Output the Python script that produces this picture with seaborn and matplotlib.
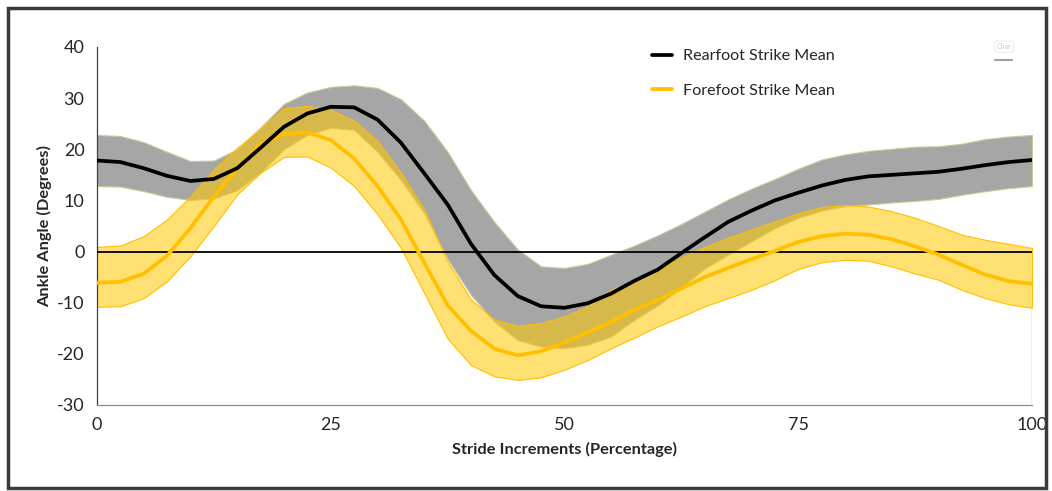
import numpy as np
import pandas as pd
import matplotlib.pyplot as plt
import seaborn as sns
from matplotlib.patches import Rectangle
from matplotlib.ticker import MultipleLocator

# stride position (% of stride), sampled every 2.5 %
stride = np.arange(0, 100.1, 2.5)

rearfoot_mean = [17.8, 17.5, 16.3, 14.8, 13.8, 14.2, 16.3, 20.3, 24.4, 27.0, 28.3,
                 28.2, 25.8, 21.3, 15.3, 9.2, 1.5, -4.6, -8.7, -10.7, -11.0,
                 -10.1, -8.2, -5.7, -3.5, -0.3, 2.8, 5.8, 8.0, 10.0, 11.5,
                 12.9, 14.0, 14.7, 15.0, 15.3, 15.6, 16.2, 16.9, 17.5, 17.9]
rearfoot_upper = [22.8, 22.6, 21.4, 19.5, 17.7, 17.8, 20.0, 24.3, 28.9, 31.1, 32.2,
                  32.5, 32.0, 29.8, 25.6, 19.5, 12.0, 5.8, 0.4, -2.9, -3.2,
                  -2.4, -0.6, 1.2, 3.2, 5.4, 7.8, 10.2, 12.3, 14.2, 16.2,
                  18.0, 19.0, 19.7, 20.1, 20.5, 20.6, 21.1, 22.0, 22.5, 22.8]
rearfoot_lower = [12.8, 12.7, 11.8, 10.7, 10.1, 10.4, 12.0, 15.5, 20.0, 22.8, 24.2,
                  23.8, 19.5, 14.0, 7.5, -1.5, -8.5, -13.7, -17.3, -18.6, -18.9,
                  -18.2, -16.6, -13.3, -10.5, -7.0, -3.3, -0.6, 2.0, 4.6, 6.6,
                  8.0, 8.9, 9.2, 9.6, 9.9, 10.3, 11.1, 11.8, 12.4, 12.8]

forefoot_mean = [-6.1, -5.9, -4.3, -0.8, 4.6, 10.8, 16.2, 21.0, 23.0, 23.3, 21.8,
                 18.2, 12.8, 6.3, -2.2, -10.5, -15.5, -19.0, -20.3, -19.5, -17.8,
                 -15.8, -13.8, -11.4, -9.5, -7.2, -5.0, -3.2, -1.5, 0.1, 1.9,
                 3.0, 3.5, 3.3, 2.4, 1.0, -0.6, -2.6, -4.5, -5.8, -6.3]
forefoot_upper = [0.9, 1.2, 3.0, 6.3, 10.8, 16.1, 20.3, 24.0, 28.0, 28.5, 27.7,
                  25.6, 21.6, 15.4, 8.2, -2.0, -9.4, -13.3, -14.5, -14.0, -12.7,
                  -10.7, -7.5, -5.7, -3.5, -1.2, 0.9, 2.7, 4.3, 5.9, 7.5,
                  8.7, 9.1, 8.8, 7.9, 6.6, 5.0, 3.3, 2.3, 1.5, 0.7]
forefoot_lower = [-10.8, -10.7, -9.1, -5.8, -0.9, 5.0, 11.2, 15.4, 18.5, 18.6, 16.4,
                  12.8, 7.3, 0.7, -8.1, -17.0, -22.2, -24.4, -25.1, -24.6, -23.1,
                  -21.2, -18.9, -16.8, -14.6, -12.7, -10.7, -9.1, -7.5, -5.6, -3.4,
                  -2.1, -1.6, -1.8, -2.9, -4.3, -5.5, -7.5, -9.1, -10.3, -11.0]

labels = ["Rearfoot Strike Mean", "Forefoot Strike Mean"]
colors = {"Rearfoot Strike Mean": "#000000", "Forefoot Strike Mean": "#FFC000"}

df = pd.DataFrame({
    "stride": np.concatenate([stride, stride]),
    "angle": rearfoot_mean + forefoot_mean,
    "group": [labels[0]] * len(stride) + [labels[1]] * len(stride),
})

sns.set_style("white")
plt.rcParams['font.family'] = ['Lato', 'DejaVu Sans']
plt.rcParams['axes.unicode_minus'] = False

fig = plt.figure(figsize=(10.52, 4.91), dpi=100)
ax = fig.add_axes([0.0922, 0.1752, 0.8888, 0.7291])

# SD bands
ax.fill_between(stride, rearfoot_lower, rearfoot_upper, facecolor='#A6A6A6',
                edgecolor='#CFC99A', linewidth=0.8, zorder=1)
ax.fill_between(stride, forefoot_lower, forefoot_upper, facecolor=(1.0, 0.78, 0.0, 0.55),
                edgecolor='#FFC000', linewidth=0.8, zorder=2)
ax.plot([stride[-1], stride[-1]], [-30, forefoot_lower[-1]], color='#FFC000', lw=1, zorder=2)

ax.axhline(0, color='black', lw=1.3, zorder=3)

# forefoot drawn first so the black mean sits on top
sns.lineplot(data=df, x="stride", y="angle", hue="group", hue_order=labels[::-1],
             palette=colors, linewidth=2.7, ax=ax, zorder=4)

ax.set_xlim(0, 100)
ax.set_ylim(-30, 40)
ax.set_xticks([0, 25, 50, 75, 100])
ax.xaxis.set_minor_locator(MultipleLocator(1))
ax.set_yticks(range(-30, 41, 10))
ax.tick_params(axis='x', which='both', direction='out', length=4, width=0.8,
               color='#7F7F7F', labelsize=13, labelcolor='#262626', pad=5)
ax.tick_params(axis='y', direction='inout', length=10, width=0.8,
               color='#404040', labelsize=13, labelcolor='#262626', pad=4)

for side in ['top', 'right']:
    ax.spines[side].set_visible(False)
ax.spines['left'].set_color('#404040')
ax.spines['bottom'].set_color('#8C8C8C')
ax.spines['left'].set_linewidth(0.9)
ax.spines['bottom'].set_linewidth(0.9)

ax.set_xlabel('Stride Increments (Percentage)', fontsize=11.8, fontweight='bold', labelpad=6)
ax.set_ylabel('Ankle Angle (Degrees)', fontsize=11.8, fontweight='bold')
ax.yaxis.set_label_coords(-0.048, 0.5)

handles, labs = ax.get_legend_handles_labels()
ax.legend(handles[::-1], labs[::-1], loc='upper left', bbox_to_anchor=(0.578, 1.035),
          frameon=False, fontsize=11.6, handlelength=1.25, handletextpad=0.7,
          labelspacing=1.25, labelcolor='#262626')

# small leftover chart tag in the top right
fig.text(0.9475, 0.9, 'Char', fontsize=5, color='#C8C8C8',
         bbox=dict(boxstyle='round,pad=0.3', fc='white', ec='#E6E6E6', lw=0.6))
fig.add_artist(plt.Line2D([0.946, 0.962], [0.877, 0.877], color='#A0A0A0', lw=1.5))

# outer frame
fig.add_artist(Rectangle((0.008, 0.006), 0.986, 0.978, transform=fig.transFigure,
                         fill=False, edgecolor='#3A3A3A', linewidth=2.5))

fig.savefig('out.png', dpi=100)
